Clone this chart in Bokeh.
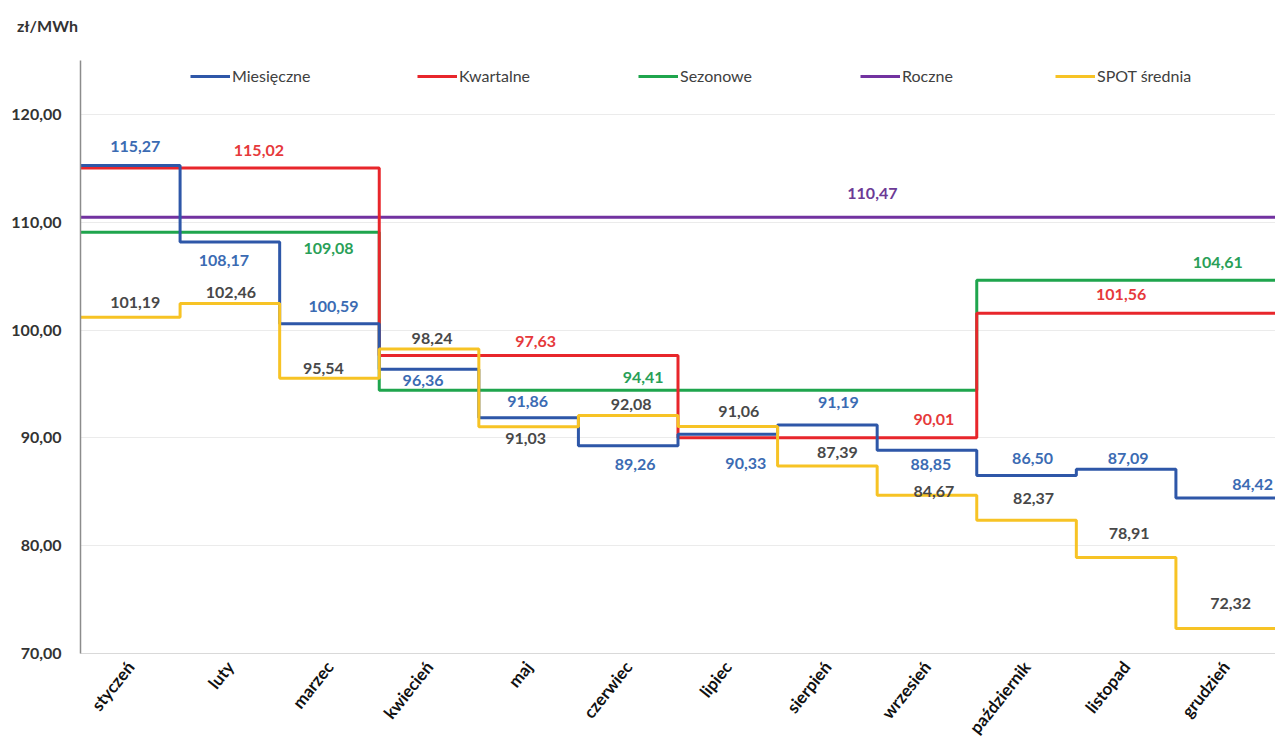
import numpy as np
from bokeh.plotting import figure
from bokeh.layouts import column
from bokeh.models import Range1d, FixedTicker, Legend, LegendItem, ColumnDataSource, Div
from bokeh.core.properties import value
from bokeh.embed import file_html
from bokeh.resources import INLINE

# ---------------- data ----------------
months = ["styczeń", "luty", "marzec", "kwiecień", "maj", "czerwiec",
          "lipiec", "sierpień", "wrzesień", "październik", "listopad", "grudzień"]
miesieczne = [115.27, 108.17, 100.59, 96.36, 91.86, 89.26, 90.33, 91.19, 88.85, 86.50, 87.09, 84.42]
kwartalne = [115.02, 97.63, 90.01, 101.56]          # Q1..Q4
sezonowe = [109.08, 94.41, 104.61]                  # I-III, IV-IX, X-XII
sezon_len = [3, 6, 3]
roczne = [110.47]
spot = [101.19, 102.46, 95.54, 98.24, 91.03, 92.08, 91.06, 87.39, 84.67, 82.37, 78.91, 72.32]
y_ticks = [70, 80, 90, 100, 110, 120]
unit_label = "zł/MWh"

# ---------------- styling / placement ----------------
FONT = "Lato"
COL = {"m": "#2E57A8", "k": "#E8262B", "s": "#1FA54D", "r": "#7232A0", "p": "#F7C325"}
LBL = {"m": "#3B6BB3", "k": "#E6393B", "s": "#2A9F58", "r": "#6C3A96", "p": "#484848"}
# label placement: (month index, x pixel offset, y pixel offset)
place_m = [(0, 5, -19), (1, -6, 19), (2, 4, -17), (3, -6, 11), (4, -1, -16), (5, 7, 19),
           (6, 18, 29), (7, 11, -23), (8, 4, 14), (9, 6, -17), (10, 2, -11), (11, 27, -14)]
place_k = [(1, 29, -18), (4, 7, -14), (8, 7, -18), (10, -5, -19)]
place_s = [(2, -1, 16), (5, 15, -13), (11, -8, -18)]
place_r = [(7, 45, -24)]
place_p = [(0, 5, -15), (1, 1, -11), (2, -6, -10), (3, 3, -11), (4, -3, 12), (5, 3, -11),
           (6, 11, -15), (7, 10, -14), (8, 7, -4), (9, 7, -22), (10, 3, -24), (11, 5, -25)]


def fmt(v):
    return f"{v:.2f}".replace(".", ",")


# expand to monthly series
kw_m = list(np.repeat(kwartalne, 3))
sz_m = list(np.repeat(sezonowe, sezon_len))
rc_m = list(np.repeat(roczne, 12))

edges = list(range(13))

HEAD_H = 45
header = Div(text=unit_label, width=300, height=HEAD_H, margin=0,
             styles={"font-family": "Lato", "font-weight": "bold", "font-size": "16px",
                     "color": "#333333", "padding-left": "17px", "padding-top": "16px",
                     "line-height": "19px", "background": "white"})

p = figure(width=1275, height=749 - HEAD_H, output_backend="svg", toolbar_location=None,
           x_range=Range1d(0, 12), y_range=Range1d(70, 125),
           min_border_left=80, min_border_right=0, min_border_top=60 - HEAD_H,
           min_border_bottom=96)
p.outline_line_color = None
p.background_fill_color = "white"
p.border_fill_color = "white"

# axes
p.xaxis.ticker = FixedTicker(ticks=[i + 0.5 for i in range(12)])
p.xaxis.major_label_overrides = {i + 0.5: m for i, m in enumerate(months)}
p.xaxis.major_label_orientation = 0.9
p.xaxis.major_label_text_font = FONT
p.xaxis.major_label_text_font_size = "17px"
p.xaxis.major_label_text_font_style = "bold"
p.xaxis.major_label_text_color = "#111111"
p.xaxis.major_label_standoff = 4
p.xaxis.axis_line_color = "#d9d9d9"
p.xaxis.major_tick_line_color = None
p.xaxis.minor_tick_line_color = None

p.yaxis.ticker = FixedTicker(ticks=y_ticks)
p.yaxis.major_label_overrides = {t: fmt(t) for t in y_ticks}
p.yaxis.major_label_text_font = FONT
p.yaxis.major_label_text_font_size = "16px"
p.yaxis.major_label_text_font_style = "bold"
p.yaxis.major_label_text_color = "#333333"
p.yaxis.major_label_standoff = 13
p.yaxis.axis_line_color = "#8c8c8c"
p.yaxis.axis_line_width = 1.5
p.yaxis.major_tick_line_color = None
p.yaxis.minor_tick_line_color = None

p.xgrid.grid_line_color = None
p.ygrid.grid_line_color = "#ebebeb"
p.ygrid.ticker = FixedTicker(ticks=y_ticks)

# step lines
series = [
    ("Roczne", rc_m, "r"),
    ("Sezonowe", sz_m, "s"),
    ("Kwartalne", kw_m, "k"),
    ("Miesięczne", miesieczne, "m"),
    ("SPOT średnia", spot, "p"),
]
renderers = {}
for name, vals, key in series:
    ys = list(vals) + [vals[-1]]
    r = p.step(edges, ys, mode="after", line_color=COL[key], line_width=3)
    renderers[name] = r

# data labels
def add_labels(vals, places, key):
    xs = [i + 0.5 for i, _, _ in places]
    ys = [vals[i] for i, _, _ in places]
    src = ColumnDataSource(dict(x=xs, y=ys, t=[fmt(vals[i]) for i, _, _ in places],
                                dx=[d for _, d, _ in places], dy=[d for _, _, d in places]))
    p.text(x="x", y="y", text="t", x_offset="dx", y_offset="dy", source=src,
           text_font=value(FONT), text_font_size="16px", text_font_style="bold",
           text_color=LBL[key], text_align="center", text_baseline="middle")

add_labels(miesieczne, place_m, "m")
add_labels(kw_m, place_k, "k")
add_labels(sz_m, place_s, "s")
add_labels(rc_m, place_r, "r")
add_labels(spot, place_p, "p")

# legend, one entry per position
legend_order = ["Miesięczne", "Kwartalne", "Sezonowe", "Roczne", "SPOT średnia"]
legend_x = [110, 337, 558, 780, 975]
for name, lx in zip(legend_order, legend_x):
    lg = Legend(items=[LegendItem(label=name, renderers=[renderers[name]])],
                location=(lx, 568), orientation="horizontal",
                glyph_width=40, glyph_height=16, label_height=16, label_standoff=2,
                padding=0, margin=0, spacing=0,
                border_line_color=None, background_fill_alpha=0,
                label_text_font=FONT, label_text_font_size="16px", label_text_color="#404040")
    p.add_layout(lg, "center")

layout = column(header, p, spacing=0)
open("out.html", "w").write(file_html(layout, INLINE))
